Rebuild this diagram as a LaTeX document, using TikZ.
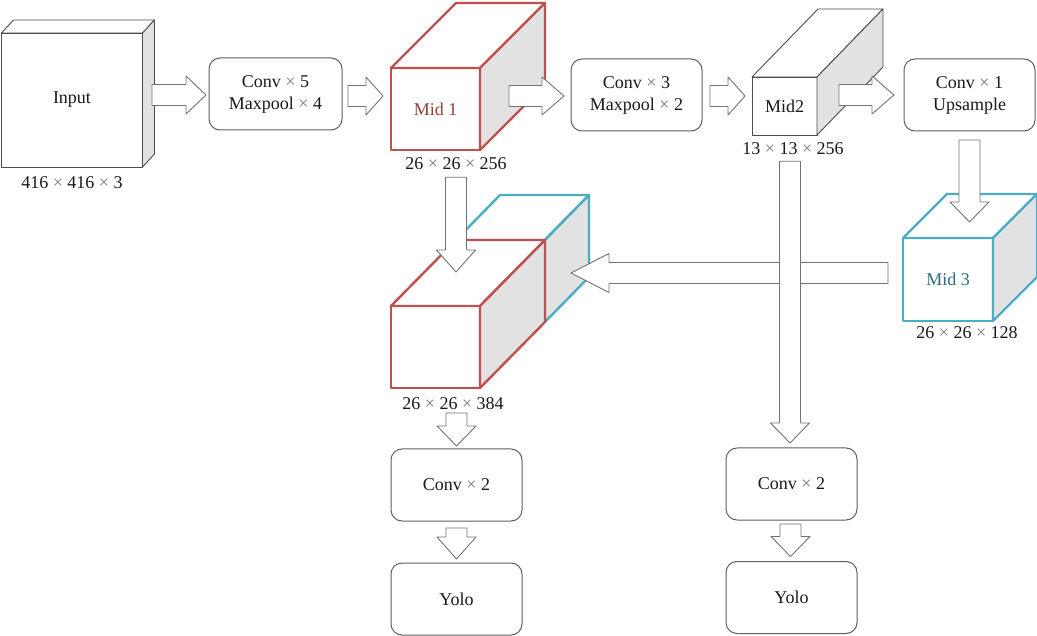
\documentclass[tikz,border=0pt]{standalone}
\usepackage{fontspec}
\setmainfont{LiberationSerif}[Extension=.ttf, UprightFont=*-Regular, BoldFont=*-Bold, ItalicFont=*-Italic, BoldItalicFont=*-BoldItalic]
\usetikzlibrary{calc}
\definecolor{cred}{RGB}{192,80,77}
\definecolor{cblue}{RGB}{75,172,198}
\definecolor{sidegray}{RGB}{226,226,226}
\definecolor{midred}{RGB}{150,65,55}
\definecolor{midblue}{RGB}{45,110,130}
\definecolor{edgegray}{RGB}{95,95,95}
\definecolor{arrgray}{RGB}{115,115,115}
\definecolor{txt}{RGB}{25,25,25}
\definecolor{timesgray}{RGB}{120,120,120}
\newcommand\X{{\color{timesgray}×}}
% block arrows: [head length]{start}{end}
\newcommand\rarr[3][20]{\draw[blk] let \p1=(#2),\p2=(#3) in
  (\x1,\y1+10.5pt) -- (\x2-#1pt,\y1+10.5pt) -- (\x2-#1pt,\y1+19pt) -- (\x2,\y1)
  -- (\x2-#1pt,\y1-19pt) -- (\x2-#1pt,\y1-10.5pt) -- (\x1,\y1-10.5pt) -- cycle;}
\newcommand\larr[3][20]{\draw[blk] let \p1=(#2),\p2=(#3) in
  (\x1,\y1+10.5pt) -- (\x2+#1pt,\y1+10.5pt) -- (\x2+#1pt,\y1+19.5pt) -- (\x2,\y1)
  -- (\x2+#1pt,\y1-19.5pt) -- (\x2+#1pt,\y1-10.5pt) -- (\x1,\y1-10.5pt) -- cycle;}
\newcommand\darr[3][20]{\draw[blk] let \p1=(#2),\p2=(#3) in
  (\x1-10.5pt,\y1) -- (\x1-10.5pt,\y2+#1pt) -- (\x1-19.5pt,\y2+#1pt) -- (\x1,\y2)
  -- (\x1+19.5pt,\y2+#1pt) -- (\x1+10.5pt,\y2+#1pt) -- (\x1+10.5pt,\y1) -- cycle;}
\tikzset{
  box/.style={draw=edgegray, line width=1pt, rounded corners=11pt, fill=white,
    minimum width=131, minimum height=72, align=center, inner sep=0pt, outer sep=0pt, text=txt},
  blk/.style={draw=arrgray, fill=white, line width=0.9pt},
  kline/.style={draw=black!70, line width=0.9pt},
  rline/.style={draw=cred, line width=2.4pt},
  bline/.style={draw=cblue, line width=2.4pt},
  face/.style={fill=white, inner sep=0pt, outer sep=0pt},
  dimlabel/.style={text=txt, inner sep=0pt}
}
\begin{document}
\begin{tikzpicture}[x=1pt,y=-1pt,font=\fontsize{18}{22}\selectfont,line join=round]
\useasboundingbox (0,0) rectangle (1037,636);

% ---------- Input cube ----------
\node[face, kline, minimum width=141, minimum height=134, text=txt] (input) at (72,100) {Input};
\draw[kline, fill=white] (input.north west) -- ++(12,-13) -- ++(141,0) -- (input.north east) -- cycle;
\draw[kline, fill=sidegray] (input.north east) -- ++(12,-13) -- ++(0,134) -- (input.south east) -- cycle;
\node[dimlabel] (inputdim) at (72,183) {416 \X{} 416 \X{} 3};

% ---------- Box 1 ----------
\node[box, minimum width=133] (b1) at (275.5,94) {Conv \X{} 5\\Maxpool \X{} 4};

% ---------- Mid 1 ----------
\node[face, rline, minimum width=89, minimum height=82, text=midred] (mid1) at (435.5,109) {Mid 1};
\draw[rline, fill=white] (mid1.north west) -- ++(65,-65) -- ++(89,0) -- (mid1.north east) -- cycle;
\draw[rline, fill=sidegray] (mid1.north east) -- ++(65,-65) -- ++(0,82) -- (mid1.south east) -- cycle;
\node[dimlabel] (mid1dim) at (456,164) {26 \X{} 26 \X{} 256};

% ---------- Box 2 ----------
\node[box] (b2) at (636.5,95) {Conv \X{} 3\\Maxpool \X{} 2};

% ---------- Mid 2 ----------
\node[face, kline, minimum width=65, minimum height=58, text=txt] (mid2) at (784.5,106) {Mid2};
\draw[kline, fill=white] (mid2.north west) -- ++(66,-68) -- ++(65,0) -- (mid2.north east) -- cycle;
\draw[kline, fill=sidegray] (mid2.north east) -- ++(66,-68) -- ++(0,58) -- (mid2.south east) -- cycle;
\node[dimlabel] (mid2dim) at (793,149) {13 \X{} 13 \X{} 256};

% ---------- Box 3 ----------
\node[box] (b3) at (969.5,95) {Conv \X{} 1\\Upsample};

% ---------- Mid 3 ----------
\node[face, bline, minimum width=90, minimum height=83, text=midblue] (mid3) at (948,279.5) {Mid 3};
\draw[bline, fill=white] (mid3.north west) -- ++(44,-44) -- ++(90,0) -- (mid3.north east) -- cycle;
\draw[bline, fill=sidegray] (mid3.north east) -- ++(44,-44) -- ++(0,83) -- (mid3.south east) -- cycle;
\node[dimlabel] (mid3dim) at (967,333) {26 \X{} 26 \X{} 128};

% ---------- Concatenated cube ----------
\node[face, bline, minimum width=89, minimum height=82] (catb) at (500.5,281) {};
\draw[bline, fill=white] (catb.north west) -- ++(44,-45) -- ++(89,0) -- (catb.north east) -- cycle;
\draw[bline, fill=sidegray] (catb.north east) -- ++(44,-45) -- ++(0,82) -- (catb.south east) -- cycle;
\node[face, rline, minimum width=89, minimum height=82] (catr) at (435.5,347) {};
\draw[rline, fill=white] (catr.north west) -- ++(65,-66) -- ++(89,0) -- (catr.north east) -- cycle;
\draw[rline, fill=sidegray] (catr.north east) -- ++(65,-66) -- ++(0,82) -- (catr.south east) -- cycle;
\node[dimlabel] (catdim) at (453,404) {26 \X{} 26 \X{} 384};

% ---------- Heads ----------
\node[box] (c2l) at (456.5,485) {Conv \X{} 2};
\node[box] (yl) at (456.5,599) {Yolo};
\node[box] (c2r) at (791.5,484) {Conv \X{} 2};
\node[box] (yr) at (791.5,597.5) {Yolo};

% ---------- arrow end points ----------
\coordinate (a1s) at (152,95);  \coordinate (a1e) at ($(b1.west)+(-3,0)$);
\coordinate (a2s) at (348,96);  \coordinate (a2e) at (383,96);
\coordinate (a3s) at (509,96);  \coordinate (a3e) at ($(b2.west)+(-7,1)$);
\coordinate (a4s) at ($(b2.east)+(8,1)$); \coordinate (a4e) at (745,96);
\coordinate (a5s) at (839,95);  \coordinate (a5e) at ($(b3.west)+(-10,0)$);
\coordinate (d1s) at ($(b3.south)+(0,9)$); \coordinate (d1e) at (969.5,222);
\coordinate (l1s) at (888,273); \coordinate (l1e) at (571,273);
\coordinate (d2s) at ($(mid1dim.south)+(0,7)$); \coordinate (d2e) at (456,272);
\coordinate (d3s) at ($(mid2dim.south)+(-3,6)$); \coordinate (d3e) at ($(c2r.north)+(-1,-5)$);
\coordinate (d4s) at (456.5,413); \coordinate (d4e) at ($(c2l.north)+(0,-3)$);
\coordinate (d5s) at ($(c2l.south)+(0,7)$); \coordinate (d5e) at ($(yl.north)+(0,-4)$);
\coordinate (d6s) at ($(c2r.south)+(-1,4)$); \coordinate (d6e) at ($(yr.north)+(-1,-5)$);

% ---------- arrows ----------
\rarr{a1s}{a1e}
\rarr[17]{a2s}{a2e}
\rarr[22]{a3s}{a3e}
\rarr[17]{a4s}{a4e}
\rarr[22]{a5s}{a5e}
\darr{d1s}{d1e}
\larr[38]{l1s}{l1e}
\darr[22]{d2s}{d2e}
\darr{d3s}{d3e}
\darr{d4s}{d4e}
\darr[22]{d5s}{d5e}
\darr{d6s}{d6e}
\end{tikzpicture}
\end{document}
